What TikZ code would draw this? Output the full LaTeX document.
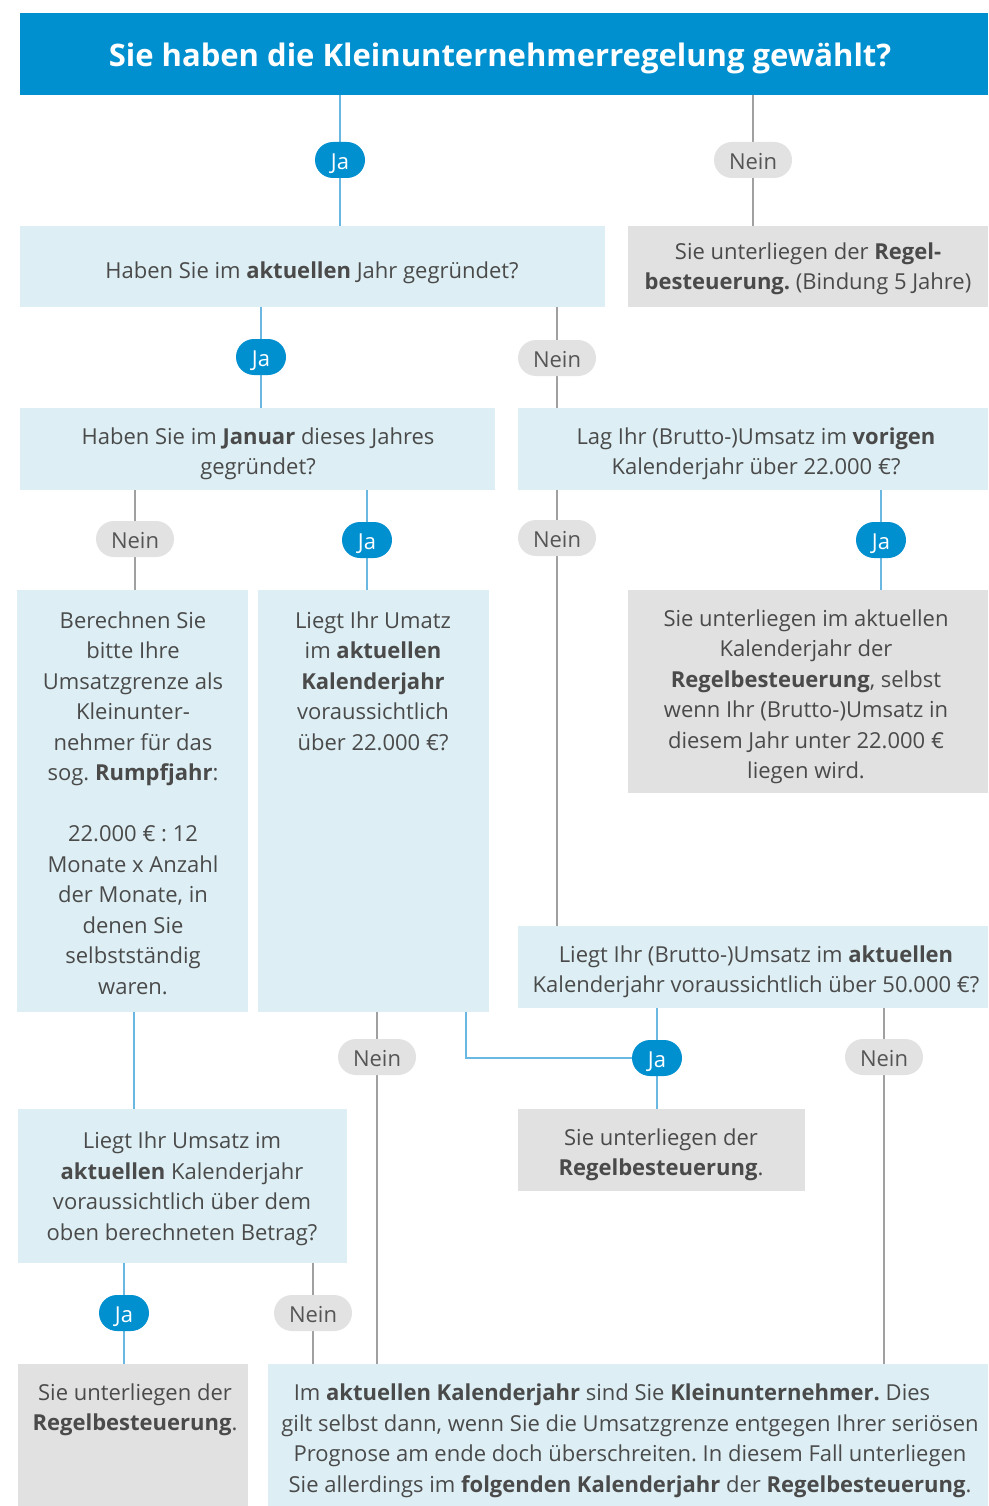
\documentclass[tikz,border=0pt]{standalone}
\usepackage{fontspec}
\setmainfont{Open Sans}
\definecolor{titleblue}{HTML}{0090CF}
\definecolor{jablue}{HTML}{0090D0}
\definecolor{lightbox}{HTML}{DDEFF4}
\definecolor{graybox}{HTML}{E1E1E1}
\definecolor{neinfill}{HTML}{E2E2E2}
\definecolor{txt}{HTML}{4A4A4A}
\definecolor{neintxt}{HTML}{555555}
\definecolor{bluel}{HTML}{6AB8E2}
\definecolor{grayl}{HTML}{A0A0A0}
\pgfdeclarelayer{bg}
\pgfdeclarelayer{lines}
\pgfsetlayers{bg,lines,main}
\frenchspacing
\tikzset{
  lbox/.style={fill=lightbox, inner sep=0, anchor=north west},
  gbox/.style={fill=graybox, inner sep=0, anchor=north west},
  bodytext/.style={font=\fontsize{22}{30.5}\selectfont, text=txt, align=center, inner sep=0, yshift=-3pt},
  japill/.style={fill=jablue, text=white, rounded corners=18pt, minimum width=50pt, minimum height=36pt, inner sep=0, text height=19pt, text depth=0pt, font=\fontsize{22}{26}\selectfont},
  neinpill/.style={fill=neinfill, text=neintxt, rounded corners=18pt, minimum width=78pt, minimum height=36pt, inner sep=0, text height=19pt, text depth=0pt, font=\fontsize{22}{26}\selectfont},
  jl/.style={draw=bluel, line width=1.5pt},
  nl/.style={draw=grayl, line width=1.5pt}
}
\begin{document}
\begin{tikzpicture}[x=1pt,y=-1pt]
\begin{pgfonlayer}{bg}
\path[fill=white] (0,0) rectangle (988,1506);
\end{pgfonlayer}
\useasboundingbox (0,0) rectangle (988,1506);
% title
\node[fill=titleblue, inner sep=0, anchor=north west, minimum width=968pt, minimum height=82pt] (title) at (20,13) {};
\node[font=\bfseries\fontsize{31}{36}\selectfont, text=white, inner sep=0] (titlet) at (500,58) {Sie haben die Kleinunternehmerregelung gewählt?};
% boxes
\node[lbox, minimum width=585pt, minimum height=81pt] (b1) at (20,226) {};
\node[gbox, minimum width=360pt, minimum height=81pt] (g1) at (628,226) {};
\node[lbox, minimum width=475pt, minimum height=82pt] (b2) at (20,408) {};
\node[lbox, minimum width=470pt, minimum height=82pt] (b3) at (518,408) {};
\node[lbox, minimum width=231pt, minimum height=422pt] (b4) at (17,590) {};
\node[lbox, minimum width=231pt, minimum height=422pt] (b5) at (258,590) {};
\node[gbox, minimum width=360pt, minimum height=203pt] (g2) at (628,590) {};
\node[lbox, minimum width=470pt, minimum height=82pt] (b7) at (518,926) {};
\node[gbox, minimum width=287pt, minimum height=82pt] (g3) at (518,1109) {};
\node[lbox, minimum width=329pt, minimum height=154pt] (b8) at (18,1109) {};
\node[gbox, minimum width=230pt, minimum height=142pt] (g4) at (18,1364) {};
\node[lbox, minimum width=720pt, minimum height=142pt] (bf) at (268,1364) {};
% texts
\node[bodytext] (b1t) at (312,270) {Haben Sie im \textbf{aktuellen} Jahr gegründet?};
\node[bodytext] (g1t) at (808,266) {Sie unterliegen der \textbf{Regel-}\\\textbf{besteuerung.} (Bindung 5 Jahre)};
\node[bodytext] (b2t) at (258,451) {Haben Sie im \textbf{Januar} dieses Jahres\\gegründet?};
\node[bodytext] (b3t) at (756,451) {Lag Ihr (Brutto-)Umsatz im \textbf{vorigen}\\Kalenderjahr über 22.000 €?};
\node[bodytext] (b4t) at (133,800) {Berechnen Sie\\bitte Ihre\\Umsatzgrenze als\\Kleinunter-\\nehmer für das\\sog. \textbf{Rumpfjahr}:\\[30.5pt]22.000 € : 12\\Monate x Anzahl\\der Monate, in\\denen Sie\\selbstständig\\waren.};
\node[bodytext] (b5t) at (373,678) {Liegt Ihr Umatz\\im \textbf{aktuellen}\\\textbf{Kalenderjahr}\\voraussichtlich\\über 22.000 €?};
\node[bodytext] (g2t) at (806,694) {Sie unterliegen im aktuellen\\Kalenderjahr der\\\textbf{Regelbesteuerung}, selbst\\wenn Ihr (Brutto-)Umsatz in\\diesem Jahr unter 22.000 €\\liegen wird.};
\node[bodytext] (b7t) at (756,969) {Liegt Ihr (Brutto-)Umsatz im \textbf{aktuellen}\\Kalenderjahr voraussichtlich über 50.000 €?};
\node[bodytext] (g3t) at (661,1152) {Sie unterliegen der\\\textbf{Regelbesteuerung}.};
\node[bodytext] (b8t) at (182,1186) {Liegt Ihr Umsatz im\\\textbf{aktuellen} Kalenderjahr\\voraussichtlich über dem\\oben berechneten Betrag?};
\node[bodytext] (g4t) at (135,1407) {Sie unterliegen der\\\textbf{Regelbesteuerung}.};
\node[bodytext] (bft) at (630,1438) {Im \textbf{aktuellen Kalenderjahr} sind Sie \textbf{Kleinunternehmer.} Dies\hspace*{36pt}\\gilt selbst dann, wenn Sie die Umsatzgrenze entgegen Ihrer seriösen\\Prognose am ende doch überschreiten. In diesem Fall unterliegen\\Sie allerdings im \textbf{folgenden Kalenderjahr} der \textbf{Regelbesteuerung}.};
% pills
\node[japill] (p1) at (340,160) {Ja};
\node[neinpill] (p2) at (753,160) {Nein};
\node[japill] (p3) at (261,357) {Ja};
\node[neinpill] (p4) at (557,358) {Nein};
\node[neinpill] (p5) at (135,539) {Nein};
\node[japill] (p6) at (367,540) {Ja};
\node[neinpill] (p7) at (557,538) {Nein};
\node[japill] (p8) at (881,540) {Ja};
\node[neinpill] (p9) at (377,1057) {Nein};
\node[japill] (p10) at (657,1058) {Ja};
\node[neinpill] (p11) at (884,1057) {Nein};
\node[japill] (p12) at (124,1313) {Ja};
\node[neinpill] (p13) at (313,1313) {Nein};
\coordinate (c1) at (134,0);
\coordinate (e1) at (466,0);
% connectors
\begin{pgfonlayer}{lines}
\draw[jl] (title.south -| p1) -- (p1) -- (b1.north -| p1);
\draw[nl] (title.south -| p2) -- (p2) -- (g1.north -| p2);
\draw[jl] (b1.south -| p3) -- (p3) -- (b2.north -| p3);
\draw[nl] (b1.south -| p4) -- (p4) -- (b3.north -| p4);
\draw[nl] (b2.south -| p5) -- (p5) -- (b4.north -| p5);
\draw[jl] (b2.south -| p6) -- (p6) -- (b5.north -| p6);
\draw[nl] (b3.south -| p7) -- (p7) -- (b7.north -| p7);
\draw[jl] (b3.south -| p8) -- (p8) -- (g2.north -| p8);
\draw[jl] (b4.south -| c1) -- (b8.north -| c1);
\draw[nl] (b5.south -| p9) -- (p9) -- (bf.north -| p9);
\draw[jl] (b5.south -| e1) |- (p10);
\draw[jl] (b7.south -| p10) -- (p10) -- (g3.north -| p10);
\draw[nl] (b7.south -| p11) -- (p11) -- (bf.north -| p11);
\draw[jl] (b8.south -| p12) -- (p12) -- (g4.north -| p12);
\draw[nl] (b8.south -| p13) -- (p13) -- (bf.north -| p13);
\end{pgfonlayer}
\end{tikzpicture}
\end{document}
